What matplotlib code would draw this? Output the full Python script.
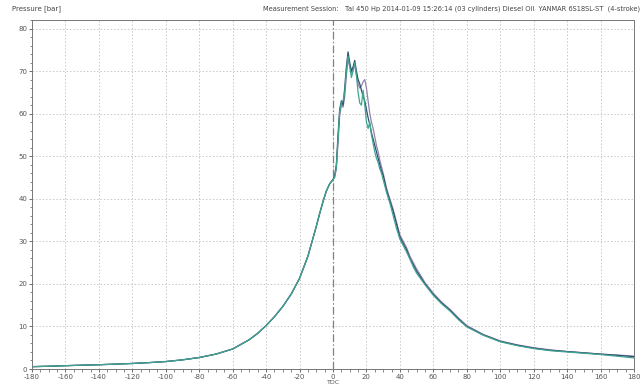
import matplotlib
matplotlib.use("Agg")
import matplotlib.pyplot as plt
from matplotlib.ticker import MultipleLocator

plt.rcParams["axes.unicode_minus"] = False

# crank angle [deg]
angles = [-180, -170, -160, -150, -140, -130, -120, -110, -100, -90, -80, -70, -60,
          -50, -45, -40, -35, -30, -25, -20, -15, -10, -8, -6, -4, -2, 0,
          1, 2, 3, 4, 5, 6, 7, 8, 9, 10, 11, 12, 13, 14, 15, 16, 17, 18, 19, 20,
          21, 22, 23, 24, 25, 26, 27, 28, 29, 30, 32, 34, 36, 38, 40, 42, 44, 46,
          48, 50, 55, 60, 65, 70, 75, 80, 90, 100, 110, 120, 130, 140, 150, 160,
          170, 180]

compression = [0.55, 0.65, 0.78, 0.9, 1.0, 1.15, 1.3, 1.5, 1.75, 2.15, 2.7, 3.5, 4.7,
               6.9, 8.4, 10.2, 12.3, 14.7, 17.6, 21.3, 26.5, 33.5, 36.5, 39.3, 41.8,
               43.5, 44.5]

cyl1_comb = [45.5, 48.0, 55.0, 61.0, 63.0, 62.0, 66.0, 71.0, 74.5, 72.0, 70.0, 71.0,
             72.5, 70.0, 68.0, 67.0, 65.5, 64.0, 63.0, 61.0, 59.0, 57.5, 55.5, 54.0,
             52.5, 51.0, 49.5, 48.0, 46.5, 45.5, 42.0, 39.5, 37.0, 34.0, 31.0, 29.5,
             28.0, 26.0, 24.5, 23.0, 20.0, 17.5, 15.5, 13.8, 11.8, 10.0, 8.0, 6.5,
             5.6, 4.9, 4.4, 4.1, 3.8, 3.5, 3.2, 2.9]
cyl2_comb = [45.0, 47.5, 54.0, 60.5, 62.5, 63.0, 65.0, 70.0, 73.5, 71.0, 68.5, 70.0,
             72.0, 69.0, 65.0, 62.5, 62.0, 65.5, 62.0, 58.0, 56.5, 58.0, 55.0, 53.0,
             51.0, 49.5, 48.5, 47.0, 46.0, 44.5, 41.5, 39.0, 36.0, 33.0, 30.5, 29.0,
             27.5, 25.8, 24.0, 22.5, 19.8, 17.3, 15.3, 13.6, 11.6, 9.9, 7.9, 6.4,
             5.5, 4.8, 4.3, 4.0, 3.7, 3.4, 3.0, 2.6]
cyl3_comb = [45.2, 47.0, 53.0, 59.5, 62.0, 61.5, 64.0, 69.0, 72.5, 71.5, 69.5, 70.5,
             71.5, 69.0, 67.0, 66.0, 66.5, 67.5, 68.0, 66.0, 63.0, 60.0, 58.0, 56.5,
             54.5, 52.5, 51.0, 49.0, 47.5, 46.0, 42.5, 40.0, 37.5, 34.5, 31.5, 30.0,
             28.5, 26.5, 25.0, 23.5, 20.3, 17.8, 15.7, 14.0, 12.0, 10.2, 8.1, 6.6,
             5.7, 5.0, 4.5, 4.1, 3.8, 3.5, 3.3, 3.0]

# drawing order: purple at the back, teal on top
cylinders = {
    "Cyl 3": compression + cyl3_comb,
    "Cyl 1": compression + cyl1_comb,
    "Cyl 2": compression + cyl2_comb,
}
colors = ["#9282b0", "#2d4f6e", "#3fa58f"]

x_ticks = list(range(-180, 181, 20))
y_ticks = list(range(0, 81, 10))

fig = plt.figure(figsize=(6.44, 3.85), dpi=100)
ax = fig.add_axes([32 / 644, 1 - 369 / 385, (634 - 32) / 644, (369 - 20) / 385])

for (name, vals), c in zip(cylinders.items(), colors):
    ax.plot(angles, vals, color=c, lw=0.9)

ax.axvline(0, color="#808080", lw=0.9, ls=(0, (6, 2, 1, 2)))

ax.set_xlim(-180, 180)
ax.set_ylim(0, 82)
ax.set_xticks(x_ticks)
ax.set_yticks(y_ticks)
ax.xaxis.set_minor_locator(MultipleLocator(5))
ax.yaxis.set_minor_locator(MultipleLocator(2))
ax.grid(True, which="major", color="#c8c8c8", ls=(0, (1.5, 2)), lw=0.7)
ax.tick_params(which="major", length=2.5, width=0.6, labelsize=5, colors="#555555", pad=1)
ax.tick_params(which="minor", length=1.8, width=0.5, colors="#555555")
for s in ax.spines.values():
    s.set_color("#777777")
    s.set_linewidth(0.7)

fig.text(12 / 644, 1 - 9 / 385, "Pressure [bar]", fontsize=5, color="#444444",
         ha="left", va="center")
fig.text(640 / 644, 1 - 9 / 385,
         "Measurement Session:   Tai 450 Hp 2014-01-09 15:26:14 (03 cylinders) Diesel Oil  YANMAR 6S18SL-ST  (4-stroke)",
         fontsize=4.8, color="#444444", ha="right", va="center")
fig.text(334 / 644, 1 - 385 / 385, "TDC", fontsize=4.5, color="#555555",
         ha="center", va="bottom")

fig.savefig("out.png", dpi=100)
